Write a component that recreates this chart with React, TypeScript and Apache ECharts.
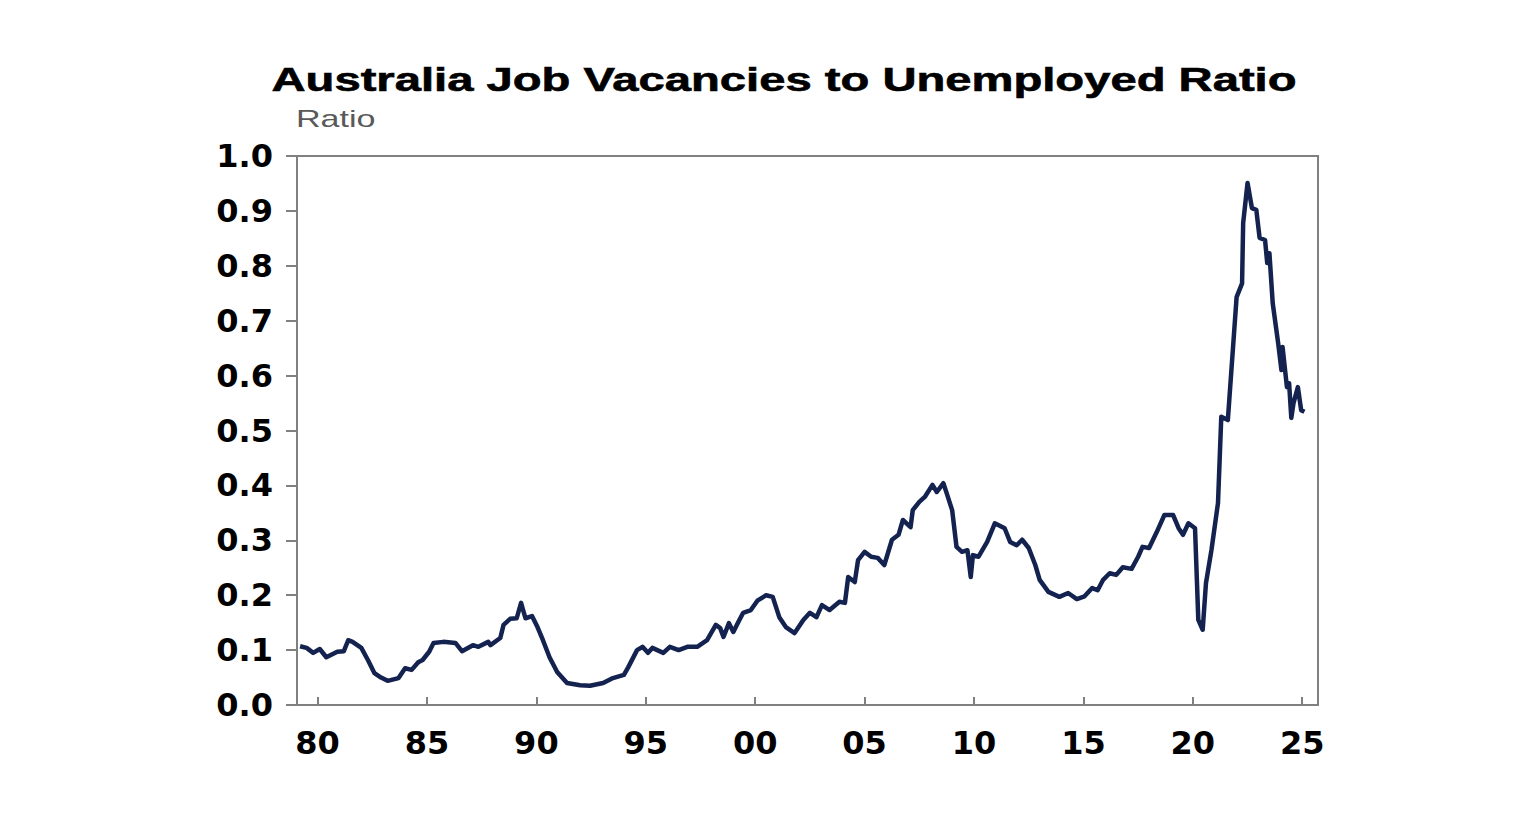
import React, { useEffect, useRef } from 'react';
import * as echarts from 'echarts';

// decimal year of each observation
const dates = [
  1979.2, 1979.5, 1979.8, 1980.1, 1980.4, 1980.9, 1981.2, 1981.4, 1981.6, 1982.0,
  1982.3, 1982.6, 1982.9, 1983.2, 1983.7, 1984.0, 1984.3, 1984.6, 1984.8, 1985.1,
  1985.3, 1985.75, 1986.3, 1986.6, 1987.1, 1987.35, 1987.8, 1987.9, 1988.35, 1988.5,
  1988.8, 1989.1, 1989.3, 1989.5, 1989.8, 1990.05, 1990.3, 1990.6, 1990.95, 1991.4,
  1992.0, 1992.45, 1993.05, 1993.5, 1994.0, 1994.2, 1994.6, 1994.85, 1995.1, 1995.3,
  1995.8, 1996.1, 1996.5, 1996.9, 1997.35, 1997.8, 1998.2, 1998.4, 1998.55, 1998.8,
  1999.0, 1999.2, 1999.45, 1999.8, 2000.1, 2000.5, 2000.8, 2001.1, 2001.4, 2001.8,
  2002.2, 2002.5, 2002.8, 2003.05, 2003.4, 2003.85, 2004.1, 2004.25, 2004.55, 2004.7,
  2005.0, 2005.3, 2005.6, 2005.9, 2006.25, 2006.55, 2006.75, 2007.1, 2007.2, 2007.5,
  2007.75, 2008.1, 2008.3, 2008.6, 2008.75, 2009.0, 2009.2, 2009.45, 2009.7, 2009.85,
  2009.95, 2010.2, 2010.6, 2010.95, 2011.4, 2011.65, 2011.95, 2012.2, 2012.5, 2012.8,
  2013.0, 2013.4, 2013.9, 2014.3, 2014.7, 2015.05, 2015.4, 2015.65, 2015.9, 2016.2,
  2016.5, 2016.8, 2017.2, 2017.5, 2017.7, 2018.0, 2018.35, 2018.7, 2019.1, 2019.35,
  2019.55, 2019.8, 2020.1, 2020.25, 2020.45, 2020.6, 2020.85, 2021.15, 2021.3, 2021.6,
  2022.0, 2022.25, 2022.3, 2022.5, 2022.7, 2022.9, 2023.05, 2023.3, 2023.4, 2023.5,
  2023.65, 2023.9, 2024.05, 2024.1, 2024.3, 2024.4, 2024.5, 2024.6, 2024.8, 2024.95,
  2025.1,
];

const ratio = [
  0.107, 0.104, 0.095, 0.102, 0.087, 0.097, 0.098, 0.118, 0.115, 0.104,
  0.082, 0.058, 0.05, 0.044, 0.049, 0.067, 0.064, 0.078, 0.082, 0.097,
  0.113, 0.115, 0.113, 0.098, 0.109, 0.106, 0.115, 0.109, 0.122, 0.146,
  0.157, 0.158, 0.186, 0.158, 0.162, 0.142, 0.118, 0.087, 0.06, 0.04,
  0.036, 0.035, 0.04, 0.049, 0.055, 0.069, 0.1, 0.106, 0.095, 0.104,
  0.095, 0.106, 0.1, 0.106, 0.106, 0.118, 0.146, 0.14, 0.124, 0.149,
  0.133, 0.149, 0.168, 0.173, 0.19, 0.2, 0.197, 0.16, 0.142, 0.131,
  0.155, 0.168, 0.16, 0.182, 0.173, 0.188, 0.186, 0.233, 0.224, 0.264,
  0.279, 0.27, 0.268, 0.255, 0.301, 0.31, 0.337, 0.324, 0.355, 0.37,
  0.379, 0.401, 0.388, 0.404, 0.386, 0.355, 0.288, 0.279, 0.282, 0.233,
  0.273, 0.27, 0.297, 0.331, 0.322, 0.297, 0.291, 0.301, 0.286, 0.255,
  0.228, 0.206, 0.197, 0.204, 0.193, 0.198, 0.213, 0.209, 0.228, 0.24,
  0.237, 0.251, 0.248, 0.27, 0.288, 0.286, 0.315, 0.346, 0.346, 0.322,
  0.31, 0.331, 0.322, 0.155, 0.137, 0.222, 0.282, 0.368, 0.525, 0.519,
  0.743, 0.768, 0.878, 0.951, 0.905, 0.902, 0.851, 0.847, 0.805, 0.823,
  0.732, 0.659, 0.61, 0.652, 0.579, 0.586, 0.523, 0.55, 0.579, 0.537,
  0.534,
];

const yearTicks = [1980, 1985, 1990, 1995, 2000, 2005, 2010, 2015, 2020, 2025];

const AXIS_GREY = '#808080';
const LABEL_FONT = '"DejaVu Sans", sans-serif';

const App: React.FC = () => {
  const ref = useRef<HTMLDivElement>(null);

  useEffect(() => {
    if (!ref.current) return;
    const chart = echarts.init(ref.current, undefined, { renderer: 'svg' });

    chart.setOption({
      animation: false,
      backgroundColor: '#ffffff',
      grid: {
        left: 297,
        top: 156,
        right: 218,
        bottom: 134,
        show: true,
        borderColor: AXIS_GREY,
        borderWidth: 2,
      },
      graphic: [
        {
          type: 'text',
          x: 784,
          y: 80,
          scaleX: 1.43,
          style: {
            text: 'Australia Job Vacancies to Unemployed Ratio',
            font: 'bold 33px "Liberation Sans", Arial, sans-serif',
            fill: '#000000',
            stroke: '#000000',
            lineWidth: 0.6,
            textAlign: 'center',
            textVerticalAlign: 'middle',
          },
        },
        {
          type: 'text',
          x: 296,
          y: 118,
          scaleX: 1.42,
          style: {
            text: 'Ratio',
            font: '24px "Liberation Sans", Arial, sans-serif',
            fill: '#595959',
            textAlign: 'left',
            textVerticalAlign: 'middle',
          },
        },
      ],
      xAxis: {
        type: 'value',
        min: 1979.06,
        max: 2025.72,
        axisLine: { lineStyle: { color: AXIS_GREY, width: 2 } },
        axisTick: {
          inside: true,
          length: 8,
          customValues: yearTicks,
          lineStyle: { color: AXIS_GREY, width: 2 },
        },
        axisLabel: {
          customValues: yearTicks,
          margin: 22,
          color: '#000000',
          fontFamily: LABEL_FONT,
          fontWeight: 'bold',
          fontSize: 32,
          formatter: (v: number) => String(Math.round(v) % 100).padStart(2, '0'),
        },
        splitLine: { show: false },
      },
      yAxis: {
        type: 'value',
        min: 0,
        max: 1,
        interval: 0.1,
        axisLine: { show: true, lineStyle: { color: AXIS_GREY, width: 2 } },
        axisTick: { show: true, length: 11, lineStyle: { color: AXIS_GREY, width: 2 } },
        axisLabel: {
          margin: 24,
          color: '#000000',
          fontFamily: LABEL_FONT,
          fontWeight: 'bold',
          fontSize: 32,
          formatter: (v: number) => v.toFixed(1),
        },
        splitLine: { show: false },
      },
      series: [
        {
          type: 'line',
          data: dates.map((d, i) => [d, ratio[i]]),
          showSymbol: false,
          symbol: 'none',
          lineStyle: { color: '#13224f', width: 4.5, join: 'round' },
        },
      ],
    });

    const onResize = () => chart.resize();
    window.addEventListener('resize', onResize);
    return () => {
      window.removeEventListener('resize', onResize);
      chart.dispose();
    };
  }, []);

  return (
    <div
      ref={ref}
      style={{ position: 'fixed', left: 0, top: 0, width: '100vw', height: '100vh' }}
    />
  );
};

export default App;
